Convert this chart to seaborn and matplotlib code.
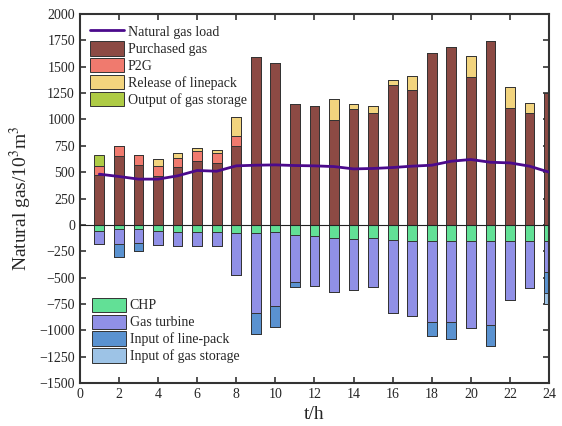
import numpy as np
import pandas as pd
import matplotlib
matplotlib.use("Agg")
import matplotlib.pyplot as plt
import seaborn as sns
from matplotlib.patches import Patch
from matplotlib.lines import Line2D

hours = list(range(1, 25))

# supply side (positive)
purchased = [470, 655, 570, 460, 545, 605, 585, 750, 1590, 1538, 1148, 1132,
             994, 1098, 1060, 1327, 1283, 1629, 1683, 1406, 1745, 1110, 1060, 1250]
p2g = [90, 95, 95, 95, 90, 100, 95, 90, 0, 0, 0, 0,
       0, 0, 0, 0, 0, 0, 0, 0, 0, 0, 0, 0]
release_lp = [0, 0, 0, 70, 50, 20, 35, 185, 0, 0, 0, 0,
              198, 50, 63, 44, 132, 0, 0, 198, 0, 198, 100, 0]
storage_out = [100, 0, 0, 0, 0, 0, 0, 0, 0, 0, 0, 0,
               0, 0, 0, 0, 0, 0, 0, 0, 0, 0, 0, 0]

# consumption side (negative)
chp = [-55, -40, -40, -55, -69, -69, -69, -76, -76, -69, -95, -104,
       -126, -132, -123, -148, -151, -151, -151, -151, -151, -151, -151, -151]
gas_turbine = [-130, -137, -135, -137, -133, -133, -133, -397, -756, -703, -444, -473,
               -511, -489, -470, -691, -716, -773, -766, -832, -798, -565, -451, -293]
input_lp = [0, -126, -70, 0, 0, 0, 0, 0, -202, -193, -54, 0,
            0, 0, 0, 0, 0, -135, -170, 0, -201, 0, 0, -202]
storage_in = [0, 0, 0, 0, 0, 0, 0, 0, 0, 0, 0, 0,
              0, 0, 0, 0, 0, 0, 0, 0, 0, 0, 0, -101]

load = [481, 459, 434, 434, 465, 516, 509, 560, 566, 569, 563, 560,
        553, 531, 535, 544, 557, 566, 604, 620, 594, 588, 557, 500]

colors = {
    "Purchased gas": "#8C4A44",
    "P2G": "#F07A6E",
    "Release of linepack": "#F2D47E",
    "Output of gas storage": "#AECB45",
    "CHP": "#62E096",
    "Gas turbine": "#9090E6",
    "Input of line-pack": "#5A92D0",
    "Input of gas storage": "#9DC3E6",
}
line_color = "#4B0A8C"

df = pd.DataFrame({"t": hours})
df["s1"] = np.array(purchased)
df["s2"] = df["s1"] + np.array(p2g)
df["s3"] = df["s2"] + np.array(release_lp)
df["s4"] = df["s3"] + np.array(storage_out)
df["c1"] = np.array(chp)
df["c2"] = df["c1"] + np.array(gas_turbine)
df["c3"] = df["c2"] + np.array(input_lp)
df["c4"] = df["c3"] + np.array(storage_in)

sns.set_style("ticks")
plt.rcParams["font.family"] = ["Liberation Serif", "DejaVu Serif"]
plt.rcParams["mathtext.fontset"] = "stix"

fig, ax = plt.subplots(figsize=(5.62, 4.26), dpi=100)
fig.subplots_adjust(left=0.142, right=0.977, top=0.967, bottom=0.101)

bar_kw = dict(native_scale=True, width=0.5, edgecolor="#333333", linewidth=0.7, ax=ax)
# cumulative layers, largest first so the smaller ones sit on top
pos_layers = [("s4", "Output of gas storage"), ("s3", "Release of linepack"),
              ("s2", "P2G"), ("s1", "Purchased gas")]
neg_layers = [("c4", "Input of gas storage"), ("c3", "Input of line-pack"),
              ("c2", "Gas turbine"), ("c1", "CHP")]
for col, name in pos_layers + neg_layers:
    sns.barplot(data=df, x="t", y=col, color=colors[name], saturation=1, **bar_kw)

ax.axhline(0, color="#222222", lw=0.8, zorder=3)
sns.lineplot(x=hours, y=load, color=line_color, lw=2, ax=ax, zorder=4)

ax.set_xlim(0, 24)
ax.set_ylim(-1500, 2000)
ax.set_xticks(range(0, 25, 2))
ax.set_yticks(range(-1500, 2001, 250))
ax.tick_params(direction="in", top=True, right=True, labelsize=10, width=1.2, length=4,
               color="#333333")
for sp in ax.spines.values():
    sp.set_linewidth(1.5)
    sp.set_color("#333333")
ax.set_xlabel("t/h", fontsize=14)
ax.set_ylabel("Natural gas/10$^3$m$^3$", fontsize=14)

h_top = [Line2D([0], [0], color=line_color, lw=2)] + \
    [Patch(facecolor=colors[n], edgecolor="#333333", lw=0.7)
     for n in ["Purchased gas", "P2G", "Release of linepack", "Output of gas storage"]]
l_top = ["Natural gas load", "Purchased gas", "P2G", "Release of linepack", "Output of gas storage"]
leg1 = ax.legend(h_top, l_top, loc="upper left", frameon=False, fontsize=10,
                 handlelength=2.4, handleheight=1.2, labelspacing=0.15,
                 handletextpad=0.3, borderaxespad=0.35)
ax.add_artist(leg1)

names_bot = ["CHP", "Gas turbine", "Input of line-pack", "Input of gas storage"]
h_bot = [Patch(facecolor=colors[n], edgecolor="#333333", lw=0.7) for n in names_bot]
ax.legend(h_bot, names_bot, loc="lower left", bbox_to_anchor=(0.0, 0.02), frameon=False,
          fontsize=10, handlelength=2.4, handleheight=1.2, labelspacing=0.15,
          handletextpad=0.3)

fig.savefig("out.png", dpi=100)
